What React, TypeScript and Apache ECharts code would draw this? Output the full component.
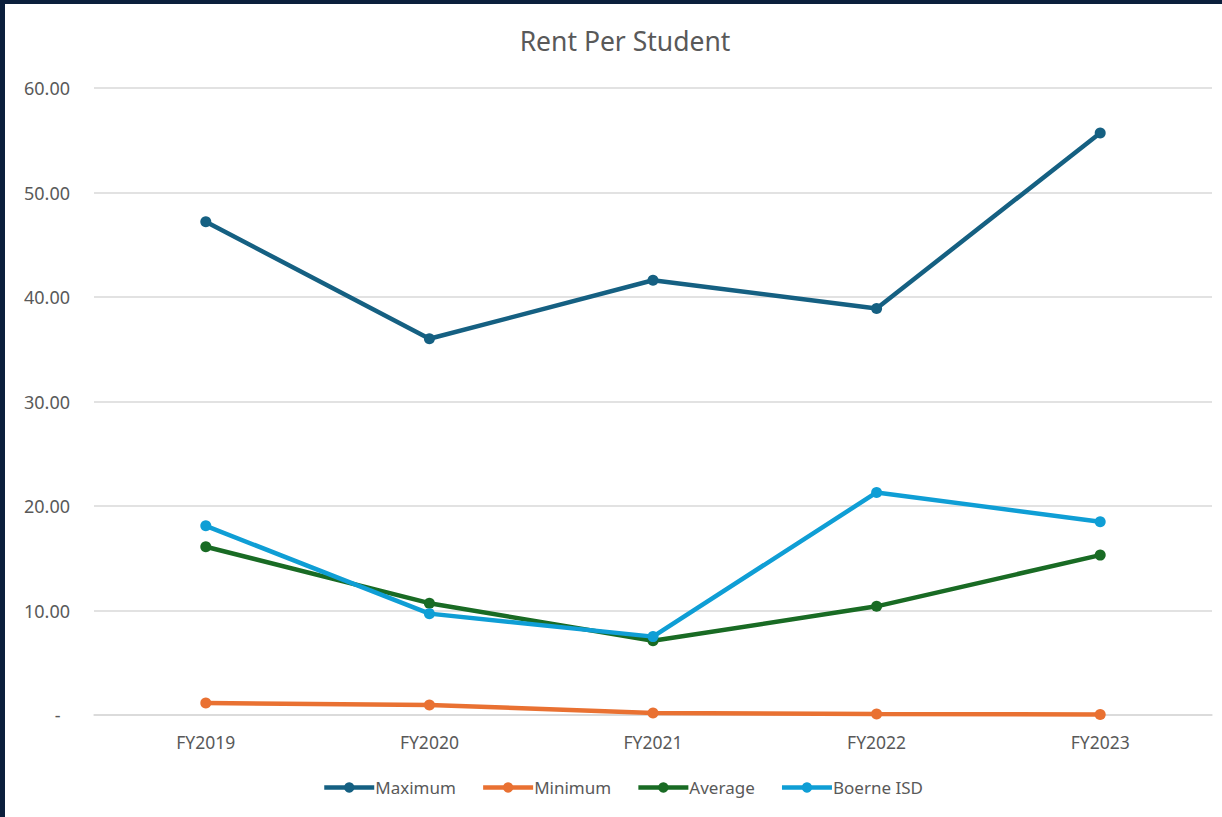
import React, { useEffect, useRef } from "react";
import * as echarts from "echarts";

const categories = ["FY2019", "FY2020", "FY2021", "FY2022", "FY2023"];
const maximum = [47.2, 36.0, 41.6, 38.9, 55.7];
const minimum = [1.15, 0.96, 0.19, 0.1, 0.05];
const average = [16.1, 10.7, 7.1, 10.4, 15.3];
const boerne = [18.1, 9.7, 7.5, 21.3, 18.5];

const seriesDefs = [
  { name: "Maximum", data: maximum, color: "#156082" },
  { name: "Minimum", data: minimum, color: "#E97132" },
  { name: "Average", data: average, color: "#196B24" },
  { name: "Boerne ISD", data: boerne, color: "#0F9ED5" },
];

export default function App() {
  const ref = useRef<HTMLDivElement>(null);
  useEffect(() => {
    if (!ref.current) return;
    const chart = echarts.init(ref.current, undefined, { renderer: "svg" });
    chart.setOption({
      animation: false,
      backgroundColor: "#ffffff",
      title: {
        text: "Rent Per Student",
        left: 620,
        textAlign: "center",
        top: 22,
        textStyle: { fontFamily: "Noto Sans", fontSize: 26.5, fontWeight: "normal", color: "#595959" },
      },
      legend: {
        bottom: 16,
        left: 317,
        itemWidth: 50,
        itemHeight: 13,
        itemGap: 25,
        lineStyle: { width: 4.5 },
        textStyle: { fontFamily: "Noto Sans", fontSize: 17, color: "#595959", padding: [0, 0, 0, -4] },
        data: seriesDefs.map((s) => s.name),
      },
      grid: { left: 94, right: 10, top: 88, bottom: 102, containLabel: false },
      xAxis: {
        type: "category",
        data: categories,
        boundaryGap: true,
        axisLine: { show: true, lineStyle: { color: "#d9d9d9", width: 1.5 } },
        axisTick: { show: false },
        axisLabel: { margin: 18, fontFamily: "Noto Sans", fontSize: 17.5, color: "#595959" },
      },
      yAxis: {
        type: "value",
        min: 0,
        max: 60,
        interval: 10,
        axisLine: { show: false },
        axisTick: { show: false },
        splitLine: { lineStyle: { color: "#d9d9d9", width: 1.5 } },
        axisLabel: {
          margin: 24,
          fontFamily: "Noto Sans",
          fontSize: 18,
          color: "#595959",
          formatter: (v: number) => (v === 0 ? "-  " : v.toFixed(2)),
        },
      },
      series: seriesDefs.map((s) => ({
        name: s.name,
        type: "line",
        data: s.data,
        symbol: "circle",
        symbolSize: 11,
        color: s.color,
        lineStyle: { width: 4.5, color: s.color },
        itemStyle: { color: s.color },
      })),
      graphic: [
        { type: "rect", left: 0, top: 0, shape: { width: 1222, height: 4 }, style: { fill: "#0b1f3c" }, z: 100 },
        { type: "rect", left: 0, top: 0, shape: { width: 5, height: 817 }, style: { fill: "#0b1f3c" }, z: 100 },
      ],
    });
    return () => chart.dispose();
  }, []);
  return (
    <div
      ref={ref}
      style={{ position: "fixed", left: 0, top: 0, width: 1222, height: 817 }}
    />
  );
}
